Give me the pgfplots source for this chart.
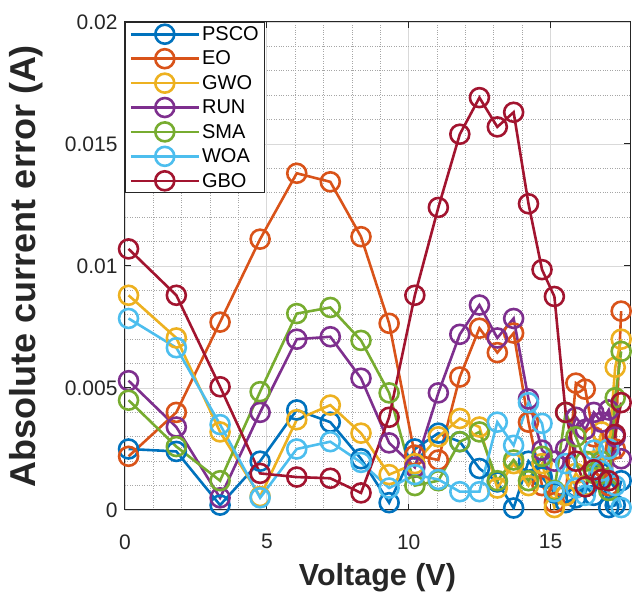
\documentclass[border=0pt]{standalone}
\usepackage{fontspec}
\setmainfont{Liberation Sans}
\usepackage{pgfplots}
\usepackage{pgfplotstable}
\pgfplotsset{compat=1.18}

\definecolor{cPSCO}{HTML}{0072BD}
\definecolor{cEO}{HTML}{D95319}
\definecolor{cGWO}{HTML}{EDB120}
\definecolor{cRUN}{HTML}{7E2F8E}
\definecolor{cSMA}{HTML}{77AC30}
\definecolor{cWOA}{HTML}{4DBEEE}
\definecolor{cGBO}{HTML}{A2142F}
\definecolor{axisgray}{HTML}{262626}

% Absolute current error (A) of each algorithm at the measured voltages
\pgfplotstableread{
V        PSCO     EO       GWO      RUN      SMA      WOA      GBO
0.1248   0.00250  0.00220  0.00880  0.00530  0.00450  0.00785  0.01070
1.8093   0.00240  0.00400  0.00705  0.00340  0.00260  0.00665  0.00880
3.3511   0.00020  0.00770  0.00320  0.00050  0.00120  0.00350  0.00505
4.7622   0.00200  0.01110  0.00055  0.00400  0.00485  0.00050  0.00150
6.0538   0.00410  0.01380  0.00370  0.00700  0.00805  0.00250  0.00135
7.2364   0.00360  0.01345  0.00430  0.00710  0.00830  0.00280  0.00130
8.3189   0.00210  0.01120  0.00315  0.00540  0.00695  0.00195  0.00070
9.3097   0.00030  0.00765  0.00145  0.00275  0.00480  0.00090  0.00380
10.2163  0.00250  0.00225  0.00190  0.00175  0.00100  0.00145  0.00880
11.0449  0.00315  0.00205  0.00300  0.00480  0.00120  0.00125  0.01240
11.8018  0.00280  0.00545  0.00375  0.00720  0.00280  0.00075  0.01540
12.4929  0.00170  0.00745  0.00340  0.00840  0.00320  0.00075  0.01690
13.1231  0.00115  0.00645  0.00090  0.00705  0.00120  0.00360  0.01570
13.6983  0.00008  0.00725  0.00190  0.00785  0.00205  0.00265  0.01630
14.2221  0.00200  0.00360  0.00100  0.00455  0.00120  0.00440  0.01255
14.6995  0.00135  0.00100  0.00190  0.00245  0.00220  0.00355  0.00985
15.1346  0.00070  0.00030  0.00010  0.00200  0.00080  0.00075  0.00875
15.5311  0.00030  0.00060  0.00060  0.00250  0.00400  0.00190  0.00400
15.8929  0.00050  0.00520  0.00150  0.00380  0.00300  0.00090  0.00200
16.2229  0.00100  0.00495  0.00100  0.00330  0.00200  0.00060  0.00095
16.5241  0.00060  0.00300  0.00200  0.00400  0.00150  0.00245  0.00165
16.7987  0.00150  0.00180  0.00320  0.00360  0.00200  0.00160  0.00125
17.0499  0.00010  0.00100  0.00250  0.00410  0.00080  0.00250  0.00120
17.2793  0.00020  0.00250  0.00585  0.00300  0.00460  0.00100  0.00310
17.4885  0.00120  0.00815  0.00700  0.00210  0.00650  0.00010  0.00440
}\errtab

\begin{document}
\begin{tikzpicture}
\begin{axis}[
  scale only axis,
  width=505pt, height=488pt,
  xmin=0, xmax=17.8,
  ymin=0, ymax=0.02,
  xtick={0,5,10,15},
  ytick={0,0.005,0.01,0.015,0.02},
  yticklabels={0,0.005,0.01,0.015,0.02},
  scaled y ticks=false,
  minor x tick num=4,
  minor y tick num=4,
  grid=both,
  major grid style={solid, draw=black!15, line width=0.9pt},
  minor grid style={dotted, draw=black!35, line width=0.9pt},
  tick align=inside,
  major tick length=6pt,
  minor tick length=0pt,
  axis line style={draw=axisgray, line width=1pt},
  every tick/.style={draw=axisgray, line width=1pt},
  /pgf/number format/assume math mode=true,
  tick label style={font=\fontsize{21}{25}\selectfont, text=axisgray},
  xticklabel style={yshift=-21pt},
  yticklabel style={xshift=-4pt},
  xlabel={Voltage (V)},
  ylabel={Absolute current error (A)},
  xlabel style={at={(axis description cs:0.5,-0.1393)}, anchor=center, inner sep=0pt,
    font=\bfseries\fontsize{30.5}{36}\selectfont, text=axisgray},
  ylabel style={at={(axis description cs:-0.196,0.5)}, anchor=center, inner sep=0pt,
    font=\bfseries\fontsize{36}{42}\selectfont, text=axisgray},
  every axis plot/.append style={line width=2.6pt, mark=o, mark size=9.5pt,
    mark options={solid, line width=2.6pt}},
  legend style={at={(0,1)}, anchor=north west, draw=axisgray, line width=1pt,
    font=\fontsize{20}{24}\selectfont, fill=white, inner xsep=4pt, inner ysep=2pt,
    row sep=5pt, cells={anchor=west}},
  legend image code/.code={
    \draw[#1] (0pt,0pt) -- (68pt,0pt);
    \draw[#1, only marks] plot coordinates {(34pt,0pt)};
  },
  legend cell align=left,
]
\addplot[color=cPSCO] table[x=V, y=PSCO] {\errtab};
\addlegendentry{PSCO}
\addplot[color=cEO] table[x=V, y=EO] {\errtab};
\addlegendentry{EO}
\addplot[color=cGWO] table[x=V, y=GWO] {\errtab};
\addlegendentry{GWO}
\addplot[color=cRUN] table[x=V, y=RUN] {\errtab};
\addlegendentry{RUN}
\addplot[color=cSMA] table[x=V, y=SMA] {\errtab};
\addlegendentry{SMA}
\addplot[color=cWOA] table[x=V, y=WOA] {\errtab};
\addlegendentry{WOA}
\addplot[color=cGBO] table[x=V, y=GBO] {\errtab};
\addlegendentry{GBO}
\end{axis}
% fixed margins round the axis box
\path ([yshift=22pt]current axis.north east) ([xshift=2pt]current axis.east)
      ([xshift=-125pt]current axis.west) ([yshift=-82pt]current axis.south);
\end{tikzpicture}
\end{document}
